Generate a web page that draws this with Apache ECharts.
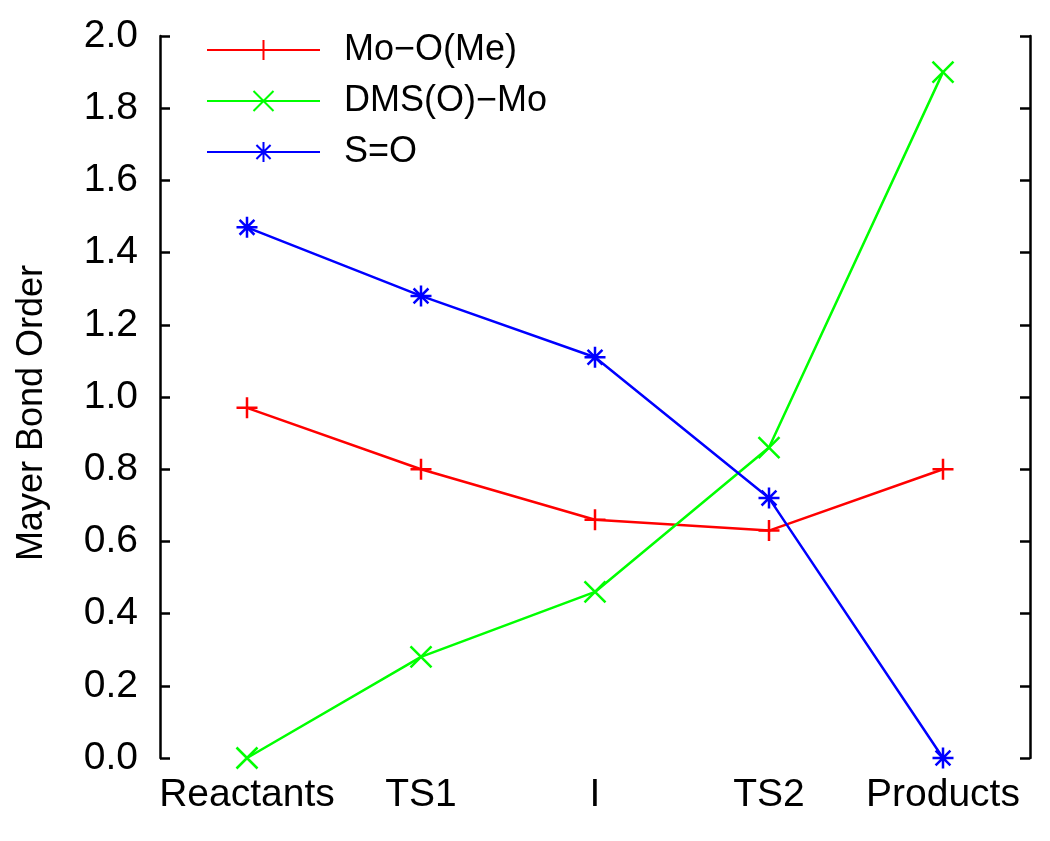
<!DOCTYPE html>
<html>
<head>
<meta charset="utf-8">
<script src="https://cdn.jsdelivr.net/npm/echarts@6/dist/echarts.min.js"></script>
<style>html,body{margin:0;padding:0;background:#fff}#c{width:1050px;height:841px}</style>
</head>
<body>
<div id="c"></div>
<script>
const categories = ['Reactants', 'TS1', 'I', 'TS2', 'Products'];
const moO = [0.97, 0.80, 0.66, 0.63, 0.80];
const dmsMo = [0.00, 0.28, 0.46, 0.86, 1.90];
const sO = [1.47, 1.28, 1.11, 0.72, 0.00];
const seriesNames = ['Mo\u2212O(Me)', 'DMS(O)\u2212Mo', 'S=O'];
const yTicks = { min: 0, max: 2, interval: 0.2 };
const yTitle = 'Mayer Bond Order';

const FONT = '"Liberation Sans", Arial, sans-serif';
const plusSym = 'path://M0,-1L0,1M-1,0L1,0';
const xSym = 'path://M-1,-1L1,1M-1,1L1,-1';
const starSym = 'path://M0,-1L0,1M-1,0L1,0M-0.7071,-0.7071L0.7071,0.7071M-0.7071,0.7071L0.7071,-0.7071';

function mk(name, data, color, sym) {
  return {
    name: name, type: 'line', data: data,
    symbol: sym, symbolSize: 21,
    lineStyle: { color: color, width: 2.5 },
    itemStyle: { color: color, borderColor: color, borderWidth: 2.5 },
    emphasis: { disabled: true },
    animation: false
  };
}

const chart = echarts.init(document.getElementById('c'));
const axisCommon = {
  type: 'value', min: yTicks.min, max: yTicks.max, interval: yTicks.interval,
  axisLine: { show: true, lineStyle: { color: '#000', width: 2.5 } },
  axisTick: { show: true, inside: true, length: 10, lineStyle: { color: '#000', width: 2.5 } },
  splitLine: { show: false }
};
chart.setOption({
  animation: false,
  grid: { left: 160, right: 20, top: 36, bottom: 83, containLabel: false },
  legend: {
    left: 201, top: 27, orient: 'vertical',
    itemWidth: 113, itemHeight: 25, itemGap: 15,
    textStyle: { fontFamily: FONT, fontSize: 36, color: '#000', padding: [0, 0, 0, 19], lineHeight: 36 },
    data: seriesNames
  },
  graphic: [{
    type: 'text', left: 14, top: 410 - 145, rotation: Math.PI / 2,
    style: { text: yTitle, fontFamily: FONT, fontSize: 36, fill: '#000' },
    silent: true
  }],
  xAxis: {
    type: 'category', data: categories, boundaryGap: true,
    axisLine: { show: false }, axisTick: { show: false },
    axisLabel: { fontFamily: FONT, fontSize: 39, color: '#000', margin: 18, interval: 0, hideOverlap: false }
  },
  yAxis: [
    Object.assign({}, axisCommon, {
      position: 'left',
      axisLabel: { fontFamily: FONT, fontSize: 39, color: '#000', margin: 22, formatter: v => v.toFixed(1) }
    }),
    Object.assign({}, axisCommon, { position: 'right', axisLabel: { show: false } })
  ],
  series: [
    mk(seriesNames[0], moO, '#ff0000', plusSym),
    mk(seriesNames[1], dmsMo, '#00ff00', xSym),
    mk(seriesNames[2], sO, '#0000ff', starSym)
  ]
});
</script>
</body>
</html>
